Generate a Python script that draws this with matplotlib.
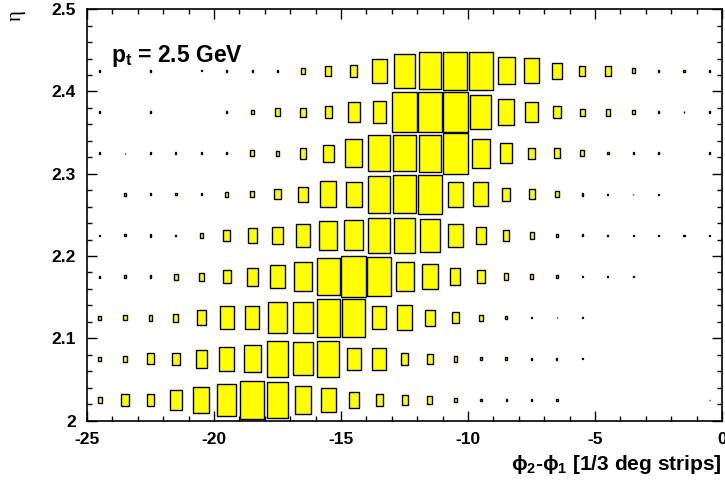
import matplotlib
matplotlib.use("Agg")
import matplotlib.pyplot as plt
import numpy as np
from matplotlib.ticker import MultipleLocator, FuncFormatter

plt.rcParams['font.family'] = ['Liberation Sans', 'DejaVu Sans']
plt.rcParams['font.weight'] = 'bold'
plt.rcParams['mathtext.fontset'] = 'custom'
plt.rcParams['mathtext.rm'] = 'Liberation Sans:bold'
plt.rcParams['mathtext.bf'] = 'Liberation Sans:bold'
plt.rcParams['mathtext.it'] = 'Liberation Sans:bold'

# bins: phi2-phi1 from -25 to 0 (1 strip wide), eta from 2.0 to 2.45 (0.05 wide)
dphi_lo = np.arange(-25, 0)
eta_lo = [2.00, 2.05, 2.10, 2.15, 2.20, 2.25, 2.30, 2.35, 2.40]

# relative content per cell (box side in % of bin), one list per eta row
eta_2025 = [15, 30, 30, 47, 62, 76, 92, 86, 66, 59, 40, 27, 24, 20, 10, 6, 4, 4, 5, 0, 0, 0, 0, 0, 2]
eta_2075 = [10, 13, 27, 31, 45, 60, 66, 86, 80, 87, 54, 54, 31, 23, 14, 7, 7, 4, 4, 2, 0, 0, 0, 0, 0]
eta_2125 = [10, 13, 14, 20, 36, 56, 57, 76, 76, 92, 92, 55, 62, 38, 27, 14, 8, 3, 3, 3, 0, 0, 0, 0, 0]
eta_2175 = [5, 7, 6, 15, 19, 30, 44, 57, 72, 89, 98, 93, 71, 60, 40, 32, 18, 14, 8, 4, 4, 4, 0, 0, 0]
eta_2225 = [4, 5, 7, 4, 13, 27, 36, 42, 56, 71, 73, 84, 84, 81, 58, 40, 26, 16, 7, 5, 4, 4, 4, 4, 2]
eta_2275 = [0, 6, 5, 5, 5, 13, 14, 25, 38, 63, 62, 89, 93, 94, 61, 59, 33, 24, 15, 6, 4, 2, 4, 0, 0]
eta_2325 = [5, 2, 4, 4, 4, 6, 16, 12, 26, 41, 68, 89, 89, 90, 100, 70, 49, 26, 24, 15, 6, 4, 5, 0, 4]
eta_2375 = [4, 0, 4, 2, 0, 5, 11, 19, 22, 28, 49, 52, 98, 98, 98, 84, 61, 49, 29, 17, 17, 11, 3, 3, 3]
eta_2425 = [4, 0, 4, 0, 2, 4, 4, 5, 13, 23, 29, 59, 83, 90, 94, 94, 66, 61, 37, 23, 23, 12, 6, 4, 4]
rows = [eta_2025, eta_2075, eta_2125, eta_2175, eta_2225, eta_2275, eta_2325, eta_2375, eta_2425]

dx = 1.0
dy = 0.05

fig = plt.figure(figsize=(7.25, 4.84), dpi=100)
ax = fig.add_axes([0.12, 0.131, 0.876, 0.850])

for ylo, vals in zip(eta_lo, rows):
    v = np.array(vals, dtype=float)
    keep = v > 0
    frac = v[keep] / 100.0
    xc = dphi_lo[keep] + dx / 2
    yc = ylo + dy / 2
    ax.bar(xc, frac * dy, width=frac * dx, bottom=yc - frac * dy / 2,
           color='#ffff00', edgecolor='black', linewidth=1.0)

ax.set_xlim(-25, 0)
ax.set_ylim(2.0, 2.5)

ax.xaxis.set_major_locator(MultipleLocator(5))
ax.xaxis.set_minor_locator(MultipleLocator(1))
ax.yaxis.set_major_locator(MultipleLocator(0.1))
ax.yaxis.set_minor_locator(MultipleLocator(0.02))
fmt = FuncFormatter(lambda v, p: '%g' % round(v, 2))
ax.xaxis.set_major_formatter(fmt)
ax.yaxis.set_major_formatter(fmt)
ax.tick_params(which='both', direction='in', top=True, right=True, width=1.0)
ax.tick_params(which='major', length=7, labelsize=12.5, pad=8)
ax.tick_params(which='minor', length=3.5)
for sp in ax.spines.values():
    sp.set_linewidth(1.2)

ax.text(-24.05, 2.4364, r'$\mathbf{p_t}$ = 2.5 GeV', fontsize=16.5, fontweight='bold',
        ha='left', va='baseline')

fig.text(0.996, 1 - 470 / 484, r'$\phi_2$-$\phi_1$ [1/3 deg strips]', fontsize=15,
         fontweight='bold', ha='right', va='baseline')
fig.text(0.022, 0.98, 'η', fontsize=15, family='Liberation Serif', fontweight='normal',
         rotation=90, ha='center', va='top')

fig.savefig('out.png', dpi=100)
